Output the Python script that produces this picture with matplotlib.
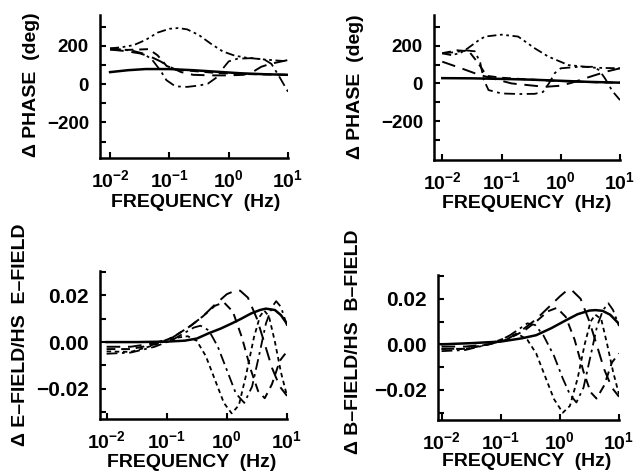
import matplotlib
matplotlib.use("Agg")
import matplotlib.pyplot as plt
import numpy as np

plt.rcParams["font.family"] = ["Liberation Sans", "DejaVu Sans"]
plt.rcParams["font.weight"] = "bold"
plt.rcParams["mathtext.fontset"] = "custom"
plt.rcParams["mathtext.rm"] = "Liberation Sans:bold"
plt.rcParams["mathtext.it"] = "Liberation Sans:bold"
plt.rcParams["mathtext.bf"] = "Liberation Sans:bold"

# ---- data: log10(frequency) and values ----
# top-left: phase difference, E-field
tl_solid_lf = [-2, -1.7, -1.4, -1.0, -0.6, -0.2, 0.2, 0.6, 1.0]
tl_solid = [62, 72, 78, 78, 72, 64, 56, 51, 48]
tl_ddd_lf = [-2, -1.8, -1.6, -1.4, -1.2, -1.0, -0.85, -0.7, -0.5, -0.3, -0.1, 0.1, 0.3, 0.6, 1.0]
tl_ddd = [186, 192, 203, 230, 268, 288, 292, 285, 255, 210, 170, 148, 137, 128, 118]
tl_dd_lf = [-2, -1.8, -1.6, -1.45, -1.3, -1.15, -1.05, -0.9, -0.7, -0.5, -0.35, -0.2, -0.1, 0.0,
            0.15, 0.4, 0.6, 0.72, 0.85, 1.0]
tl_dd = [186, 180, 172, 160, 130, 70, 20, -12, -15, -8, 2, 35, 80, 118, 132, 135, 128, 105, 40, -40]
tl_long_lf = [-2, -1.75, -1.5, -1.3, -1.15, -1.0, -0.8, -0.6, -0.3, 0.0, 0.25, 0.4, 0.55, 0.7, 0.85, 1.0]
tl_long = [180, 172, 160, 140, 118, 90, 62, 48, 45, 45, 48, 62, 90, 105, 115, 125]
tl_med_lf = [-2, -1.7, -1.5, -1.35, -1.2, -1.05, -0.9, -0.6, -0.3, 0.0, 0.3, 0.6, 1.0]
tl_med = [180, 178, 180, 182, 150, 95, 75, 68, 60, 55, 52, 50, 48]

# top-right: phase difference, B-field
tr_solid_lf = [-2, -1.5, -1.0, -0.5, 0.0, 0.5, 1.0]
tr_solid = [28, 27, 24, 20, 14, 8, 4]
tr_ddd_lf = [-2, -1.85, -1.7, -1.57, -1.4, -1.28, -1.0, -0.72, -0.44, -0.21, 0.13, 0.58, 1.0]
tr_ddd = [159, 150, 160, 186, 225, 248, 258, 248, 186, 142, 97, 83, 80]
tr_dd_lf = [-2, -1.8, -1.6, -1.45, -1.36, -1.3, -1.22, -1.0, -0.7, -0.44, -0.3, -0.2, -0.1, 0.0,
            0.3, 0.55, 0.65, 0.75, 0.87, 1.0]
tr_dd = [159, 165, 175, 170, 110, 20, -35, -53, -56, -55, -45, 0, 55, 80, 88, 88, 70, 25, -40, -88]
tr_long_lf = [-2, -1.68, -1.4, -1.1, -0.83, -0.55, -0.27, 0.0, 0.2, 0.41, 0.58, 0.8, 1.0]
tr_long = [115, 80, 48, 22, 0, -9, -18, -12, 5, 27, 44, 65, 80]
tr_med_lf = [-2, -1.75, -1.55, -1.4, -1.25, -1.0, -0.6, -0.2, 0.2, 0.6, 1.0]
tr_med = [160, 175, 170, 110, 40, 30, 22, 15, 10, 6, 4]

# bottom-left: E-field difference / half-space E-field
bl_solid_lf = [-2, -1.5, -1.0, -0.7, -0.5, -0.3, -0.1, 0.1, 0.24, 0.4, 0.55, 0.65, 0.8, 0.9, 1.0]
bl_solid = [0.0, 0.0, 0.0002, 0.0006, 0.0015, 0.0038, 0.0058, 0.0082, 0.0100, 0.0122, 0.0137, 0.0143,
            0.0137, 0.0115, 0.0078]
bl_fine_lf = [-2, -1.6, -1.3, -1.0, -0.8, -0.65, -0.5, -0.35, -0.2, -0.05, 0.08, 0.2, 0.32, 0.45,
              0.55, 0.62, 0.7, 0.8, 0.9, 1.0]
bl_fine = [-0.004, -0.0042, -0.002, 0.0005, 0.002, 0.0025, 0.0005, -0.006, -0.016, -0.026, -0.0305,
           -0.027, -0.014, 0.002, 0.011, 0.0135, 0.011, 0.0, -0.013, -0.023]
bl_dd_lf = [-2, -1.6, -1.2, -0.9, -0.7, -0.55, -0.44, -0.3, -0.15, 0.0, 0.15, 0.29, 0.42, 0.55,
            0.65, 0.75, 0.82, 0.9, 1.0]
bl_dd = [-0.005, -0.0045, -0.002, 0.001, 0.004, 0.0062, 0.007, 0.005, -0.002, -0.012, -0.022,
         -0.026, -0.019, -0.004, 0.008, 0.015, 0.0175, 0.015, 0.007]
bl_med_lf = [-2, -1.6, -1.2, -0.9, -0.6, -0.4, -0.2, -0.05, 0.1, 0.25, 0.4, 0.52, 0.63, 0.75, 0.88, 1.0]
bl_med = [-0.003, -0.003, -0.001, 0.002, 0.007, 0.011, 0.0155, 0.017, 0.013, 0.002, -0.012, -0.021,
          -0.024, -0.018, -0.008, -0.004]
bl_long_lf = [-2, -1.6, -1.2, -0.9, -0.6, -0.4, -0.2, 0.0, 0.12, 0.22, 0.35, 0.5, 0.62, 0.75, 0.88, 1.0]
bl_long = [-0.002, -0.002, -0.0005, 0.002, 0.007, 0.011, 0.016, 0.0205, 0.0218, 0.022, 0.019, 0.01,
           0.0, -0.011, -0.019, -0.023]

# bottom-right: B-field difference / half-space B-field
br_solid_lf = [-2, -1.5, -1.0, -0.65, -0.4, -0.15, 0.1, 0.3, 0.5, 0.6, 0.72, 0.85, 1.0]
br_solid = [0.0, 0.0005, 0.0012, 0.0026, 0.004, 0.007, 0.0105, 0.0132, 0.0148, 0.015, 0.0147, 0.013, 0.009]
br_fine_lf = [-2, -1.6, -1.3, -1.0, -0.85, -0.7, -0.55, -0.4, -0.25, -0.1, 0.05, 0.17, 0.3, 0.42,
              0.52, 0.6, 0.7, 0.8, 0.9, 1.0]
br_fine = [-0.002, -0.002, -0.0005, 0.002, 0.0038, 0.0044, 0.002, -0.004, -0.014, -0.024, -0.030,
           -0.027, -0.015, 0.0, 0.01, 0.013, 0.011, 0.0, -0.012, -0.022]
br_dd_lf = [-2, -1.6, -1.2, -0.9, -0.7, -0.55, -0.42, -0.28, -0.1, 0.05, 0.17, 0.28, 0.4, 0.52,
            0.63, 0.73, 0.82, 0.9, 1.0]
br_dd = [-0.003, -0.0025, 0.0, 0.003, 0.0065, 0.0092, 0.0085, 0.004, -0.005, -0.015, -0.022,
         -0.0255, -0.019, -0.005, 0.008, 0.015, 0.018, 0.015, 0.008]
br_med_lf = [-2, -1.6, -1.2, -0.9, -0.6, -0.4, -0.2, -0.05, 0.1, 0.25, 0.4, 0.52, 0.62, 0.75, 0.88, 1.0]
br_med = [-0.002, -0.002, 0.0, 0.002, 0.006, 0.01, 0.0145, 0.016, 0.012, 0.002, -0.012, -0.021,
          -0.0238, -0.018, -0.008, -0.004]
br_long_lf = [-2, -1.6, -1.2, -0.9, -0.6, -0.4, -0.2, 0.0, 0.1, 0.2, 0.35, 0.5, 0.62, 0.75, 0.88, 1.0]
br_long = [-0.001, -0.001, 0.0, 0.002, 0.007, 0.011, 0.016, 0.021, 0.0232, 0.0238, 0.02, 0.01,
           0.0, -0.011, -0.019, -0.023]

freq_ticks = [1e-2, 1e-1, 1e0, 1e1]
freq_labels = [r"$10^{-2}$", r"$10^{-1}$", r"$10^{0}$", r"$10^{1}$"]

styles = {
    "solid": dict(ls="-", lw=1.8),
    "long": dict(ls=(0, (7, 4)), lw=1.4),
    "med": dict(ls=(0, (4.5, 3)), lw=1.4),
    "dd": dict(ls=(0, (6, 2.5, 1.5, 2.5)), lw=1.3),
    "ddd": dict(ls=(0, (5, 2, 1.5, 2, 1.5, 2)), lw=1.3),
    "fine": dict(ls=(0, (2.5, 2)), lw=1.3),
}

fig = plt.figure(figsize=(6.4, 4.72), dpi=100)


def setup_axis(ax, xmin_log, ylim, yticks, ylabels, ytick_size):
    ax.set_xscale("log")
    ax.set_xlim(10 ** xmin_log, 10)
    ax.set_ylim(*ylim)
    ax.set_xticks(freq_ticks)
    ax.set_xticklabels(freq_labels, fontsize=14)
    ax.xaxis.set_minor_locator(matplotlib.ticker.NullLocator())
    ax.set_yticks(yticks)
    ax.set_yticklabels(ylabels, fontsize=ytick_size, fontweight="bold")
    ax.tick_params(direction="in", length=4.5, width=1.5, pad=8)
    ax.tick_params(axis="x", pad=8)
    for side in ["top", "right"]:
        ax.spines[side].set_visible(False)
    for side in ["left", "bottom"]:
        ax.spines[side].set_linewidth(1.8)


def draw(ax, curves):
    for key, lf, vals in curves:
        ax.plot(10 ** np.asarray(lf), vals, color="black", **styles[key])


phase_ticks = [-300, -200, -100, 0, 100, 200, 300]
phase_labels = ["", "\u2212200", "", "0", "", "200", ""]
field_ticks = [-0.03, -0.02, -0.01, 0.0, 0.01, 0.02, 0.03]
field_labels = ["", "\u22120.02", "", "0.00", "", "0.02", ""]

ax_tl = fig.add_axes([100 / 640, 1 - 158 / 472, 188 / 640, 143 / 472])
draw(ax_tl, [("solid", tl_solid_lf, tl_solid), ("ddd", tl_ddd_lf, tl_ddd), ("dd", tl_dd_lf, tl_dd),
             ("long", tl_long_lf, tl_long), ("med", tl_med_lf, tl_med)])
setup_axis(ax_tl, -2.17, (-386, 360), phase_ticks, phase_labels, 13.5)

ax_tr = fig.add_axes([434 / 640, 1 - 160 / 472, 186 / 640, 145 / 472])
draw(ax_tr, [("solid", tr_solid_lf, tr_solid), ("ddd", tr_ddd_lf, tr_ddd), ("dd", tr_dd_lf, tr_dd),
             ("long", tr_long_lf, tr_long), ("med", tr_med_lf, tr_med)])
setup_axis(ax_tr, -2.14, (-405, 362), phase_ticks, phase_labels, 13.5)

ax_bl = fig.add_axes([100 / 640, 1 - 419 / 472, 187 / 640, 148 / 472])
draw(ax_bl, [("solid", bl_solid_lf, bl_solid), ("fine", bl_fine_lf, bl_fine), ("dd", bl_dd_lf, bl_dd),
             ("med", bl_med_lf, bl_med), ("long", bl_long_lf, bl_long)])
setup_axis(ax_bl, -2.11, (-0.0329, 0.0304), field_ticks, field_labels, 15)

ax_br = fig.add_axes([438 / 640, 1 - 420 / 472, 181 / 640, 145 / 472])
draw(ax_br, [("solid", br_solid_lf, br_solid), ("fine", br_fine_lf, br_fine), ("dd", br_dd_lf, br_dd),
             ("med", br_med_lf, br_med), ("long", br_long_lf, br_long)])
setup_axis(ax_br, -2.06, (-0.0332, 0.0304), field_ticks, field_labels, 15)

lab = dict(fontsize=14, fontweight="bold", ha="center", va="center")
fig.text(31 / 640, 0.820, "\u0394 PHASE  (deg)", rotation=90, **lab)
fig.text(356 / 640, 0.816, "\u0394 PHASE  (deg)", rotation=90, **lab)
fig.text(21 / 640, 0.290, "\u0394 E\u2013FIELD/HS  E\u2013FIELD", rotation=90, **lab)
fig.text(354 / 640, 0.276, "\u0394 B\u2013FIELD/HS  B\u2013FIELD", rotation=90, **lab)
fig.text(196 / 640, 0.570, "FREQUENCY  (Hz)", **lab)
fig.text(527 / 640, 0.568, "FREQUENCY  (Hz)", **lab)
fig.text(192 / 640, 0.021, "FREQUENCY  (Hz)", **lab)
fig.text(527 / 640, 0.023, "FREQUENCY  (Hz)", **lab)

fig.savefig("out.png", dpi=100)
